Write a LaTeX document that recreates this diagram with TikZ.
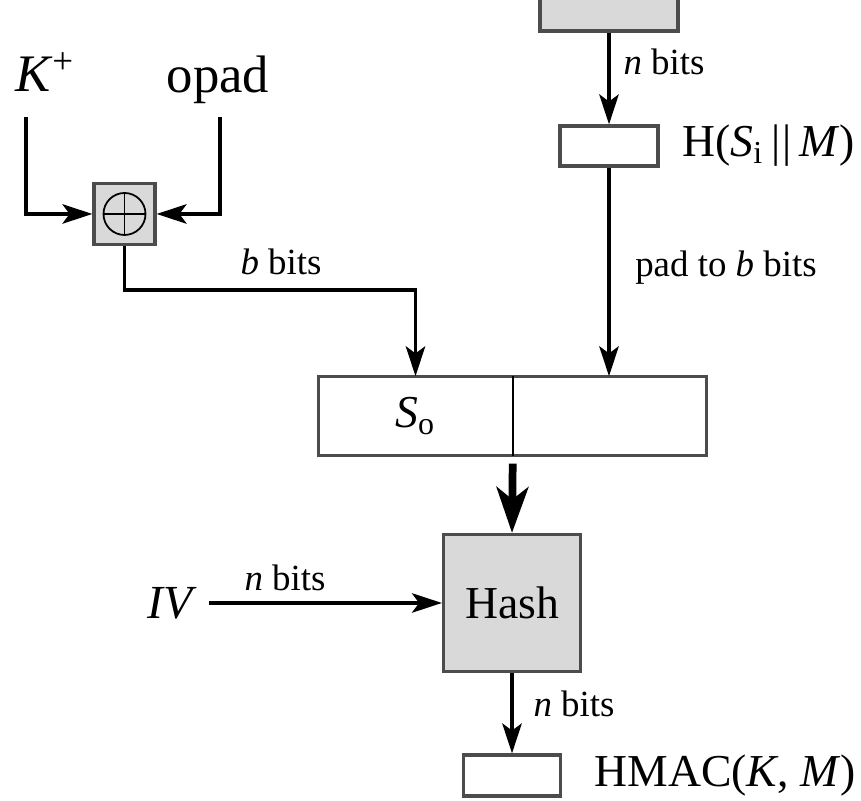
\documentclass[tikz,border=0pt]{standalone}
\usepackage{fontspec}
\setmainfont{Liberation Serif}
\usetikzlibrary{arrows.meta}

\begin{document}
\begin{tikzpicture}[>={Stealth[length=8.5pt,width=5.5pt,inset=2pt]},
  blk/.style={draw=black!70,line width=0.9pt,inner sep=0pt},
  gblk/.style={blk,fill=black!15},
  wire/.style={line width=1.1pt},
  lbl/.style={font=\fontsize{10.5}{12}\selectfont},
  big/.style={font=\fontsize{13}{15}\selectfont},
  huge/.style={font=\fontsize{15}{17}\selectfont}]
\useasboundingbox (0,0) rectangle (8.61,8.01);
% inner hash result (cut at the top)
\begin{scope}
\clip (0,0) rectangle (8.61,8.01);
\node[gblk,minimum width=1.38cm,minimum height=0.6cm] (msg) at (6.09,8.00) {};
\end{scope}
\node[blk,minimum width=0.98cm,minimum height=0.40cm] (hin) at (6.09,6.55) {};
\node[big,anchor=west] (hinlbl) at (6.70,6.55) {H(\textit{S}\textsubscript{i}\,|\kern0.6pt|\,\textit{M})};
% key and opad
\node[huge] (kp) at (0.45,7.29) {\textit{K}\textsuperscript{+}};
\node[huge] (op) at (2.18,7.21) {opad};
\coordinate (kin) at (0.26,6.84);
\coordinate (opin) at (2.20,6.84);
\node[gblk,minimum size=0.61cm] (xor) at (1.245,5.87) {};
\draw[line width=0.5pt] (xor.center) circle (0.21);
\draw[line width=0.5pt] ([xshift=-0.21cm]xor.center) -- ([xshift=0.21cm]xor.center)
([yshift=-0.21cm]xor.center) -- ([yshift=0.21cm]xor.center);
% S_o || H(S_i || M)
\node[minimum width=1.93cm,minimum height=0.78cm,inner sep=0pt] (sl) at (4.155,3.85) {\fontsize{13}{15}\selectfont\textit{S}\textsubscript{o}};
\node[minimum width=1.94cm,minimum height=0.78cm,inner sep=0pt] (sr) at (6.09,3.85) {};
\draw[blk] (sl.north west) rectangle (sr.south east);
\draw[line width=0.5pt] (sl.north east) -- (sl.south east);
% outer hash
\node[gblk,minimum size=1.37cm,big] (hash) at (5.12,1.98) {Hash};
\node[font=\fontsize{13.5}{15}\selectfont] (iv) at (1.72,1.98) {\textit{IV}};
\node[blk,minimum width=0.97cm,minimum height=0.41cm] (mac) at (5.12,0.255) {};
\node[big,anchor=west] (maclbl) at (5.82,0.25) {HMAC(\textit{K}, \textit{M})};
% connectors
\coordinate (bend) at (4.155,5.11);
\draw[wire,->] (msg.south) -- (hin.north);
\draw[wire,->] (kin) |- (xor.west);
\draw[wire,->] (opin) |- (xor.east);
\draw[wire,->] (xor.south) |- (bend) -- (sl.north);
\draw[wire,->] (hin.south) -- (sr.north);
\draw[line width=2.2pt,-{Stealth[length=13pt,width=9pt,inset=3.5pt]}] ([yshift=-0.08cm]sl.south east) -- (hash.north);
\draw[wire,->] (iv.east) -- (iv.east -| hash.west);
\draw[wire,->] (hash.south) -- (mac.north);
% labels
\node[lbl] (nb1) at (6.64,7.39) {\textit{n} bits};
\node[lbl] (bb) at (2.81,5.39) {\textit{b} bits};
\node[lbl] (pad) at (7.26,5.33) {pad to \textit{b} bits};
\node[lbl] (nb2) at (2.85,2.23) {\textit{n} bits};
\node[lbl] (nb3) at (5.74,0.97) {\textit{n} bits};
\end{tikzpicture}
\end{document}
